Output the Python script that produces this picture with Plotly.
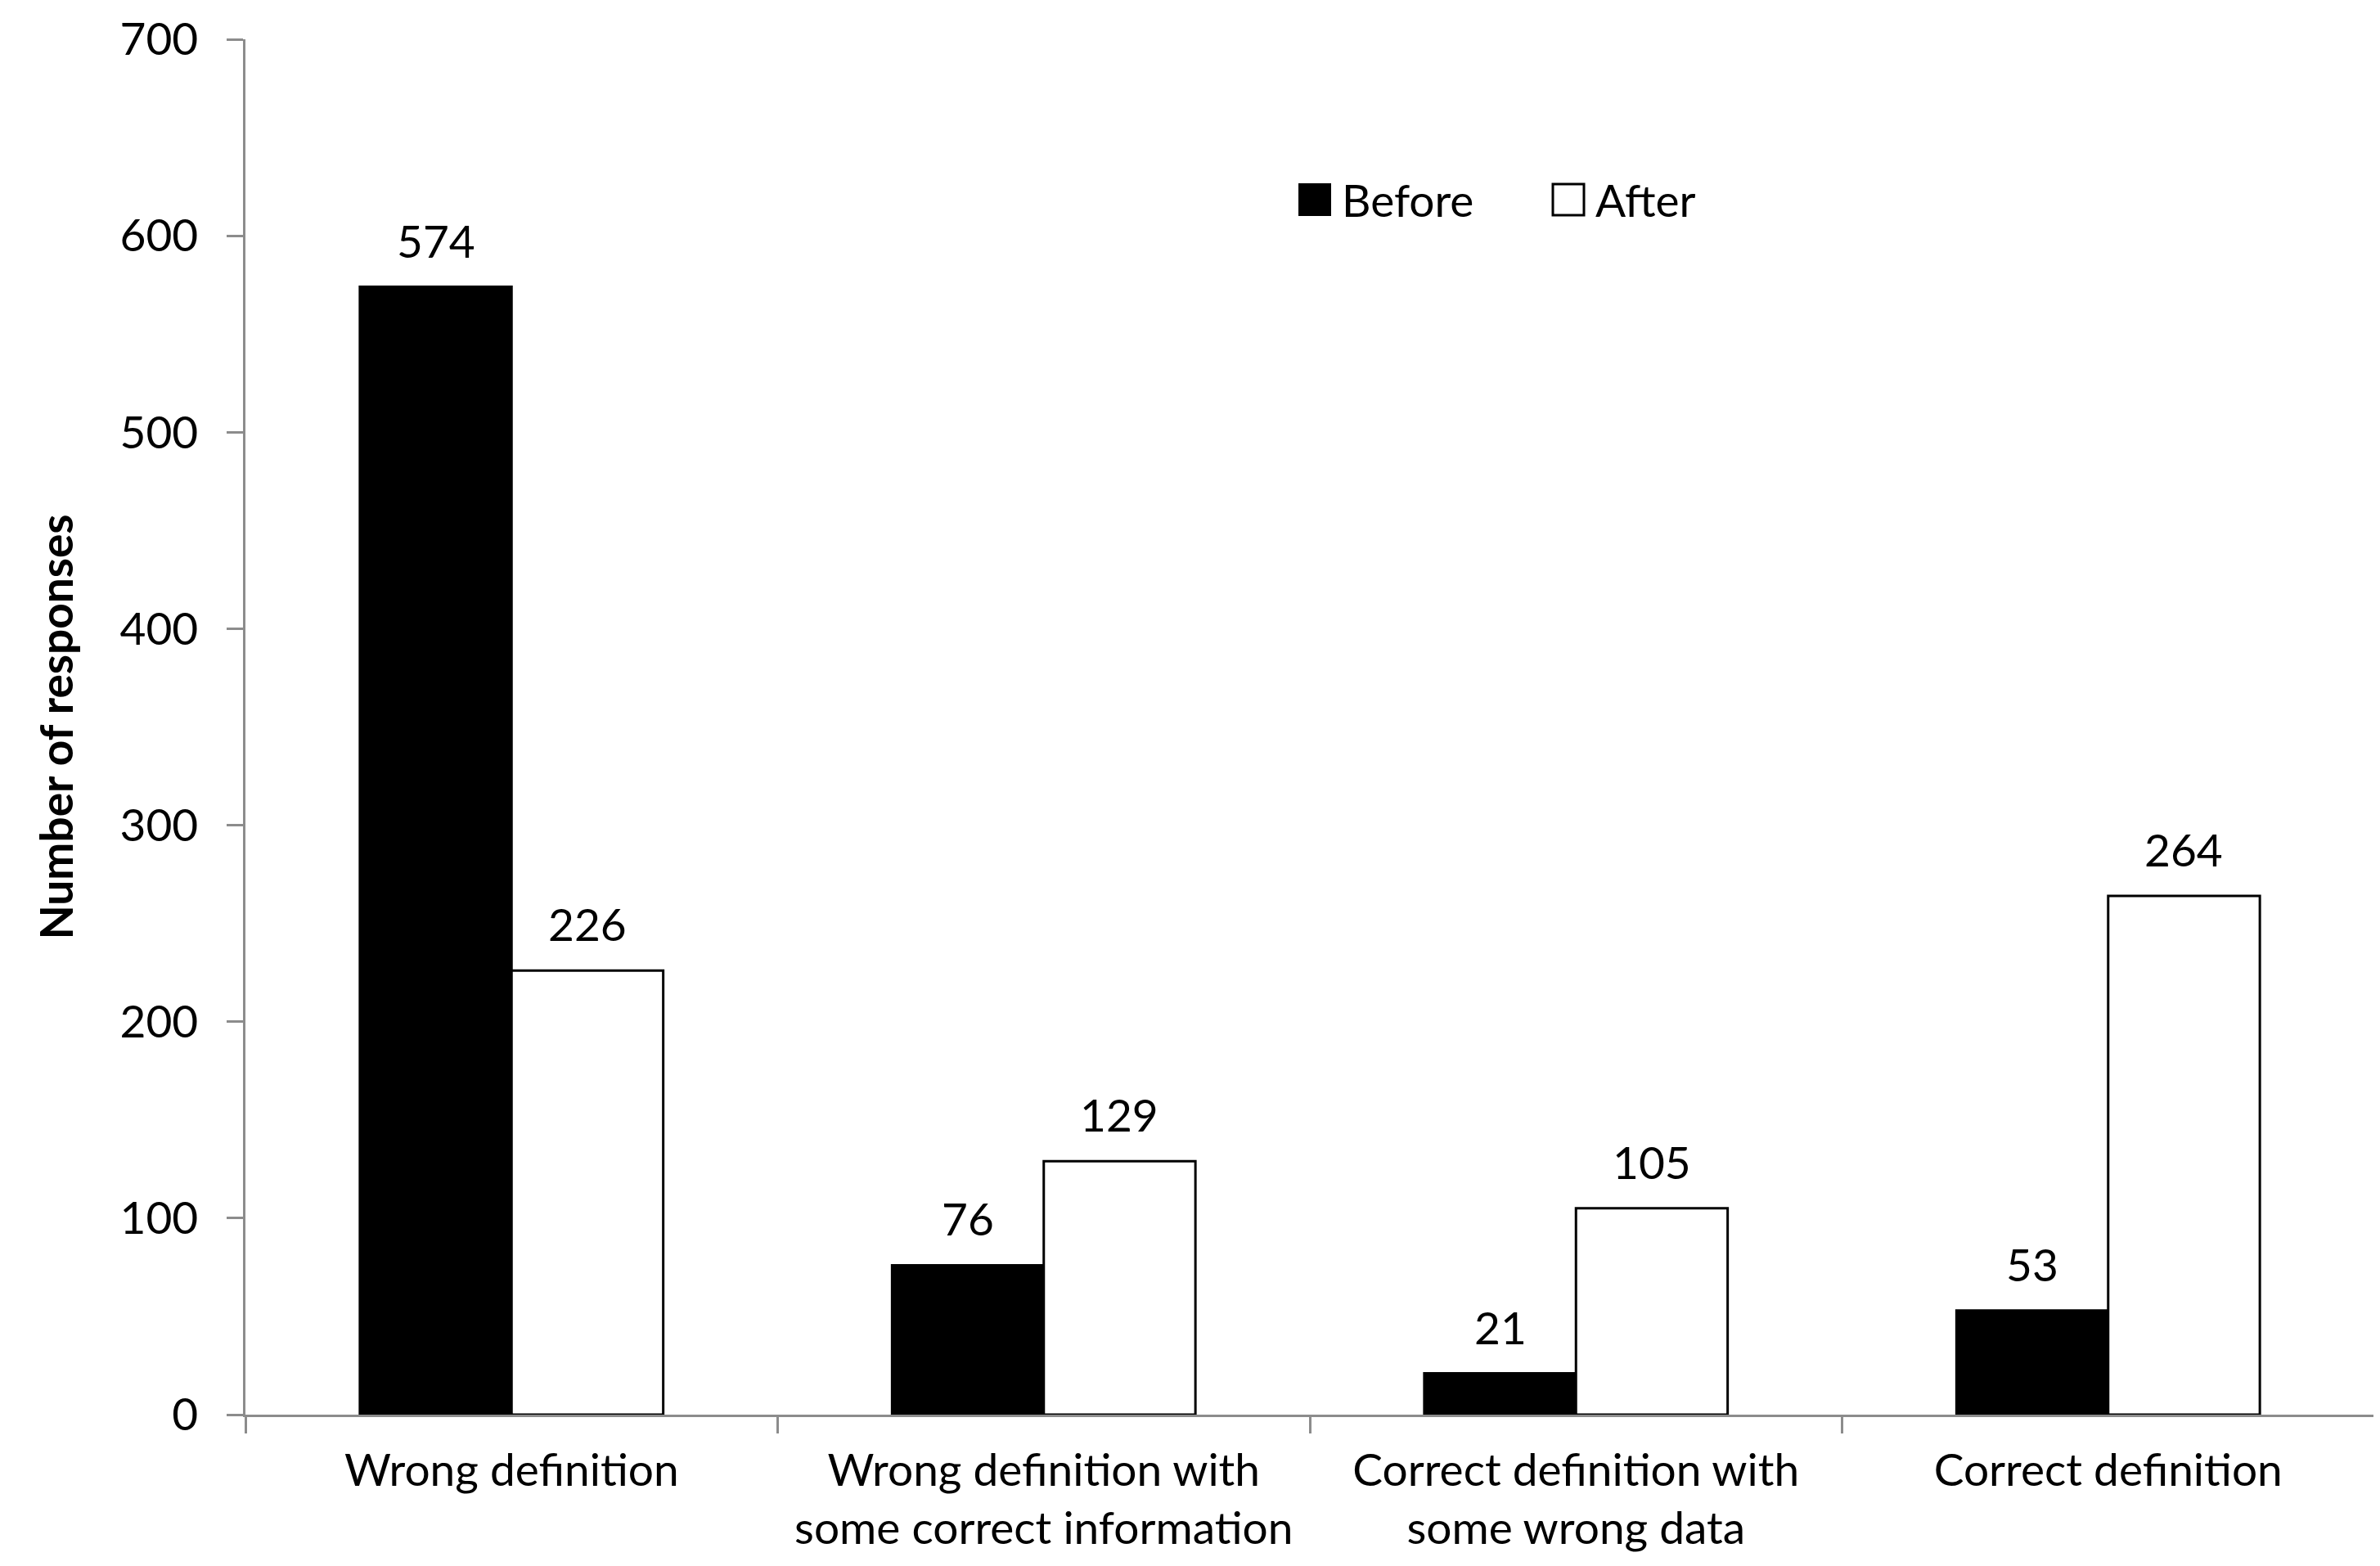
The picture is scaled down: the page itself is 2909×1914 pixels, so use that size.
import plotly.graph_objects as go

categories = ["Wrong definition",
              "Wrong definition with<br>some correct information",
              "Correct definition with<br>some wrong data",
              "Correct definition"]
before = [574, 76, 21, 53]
after = [226, 129, 105, 264]
series_names = ["Before", "After"]
y_ticks = [0, 100, 200, 300, 400, 500, 600, 700]

FONT = "Lato"
FS = 55
W, H = 2909, 1914
L, R, T, B = 292, 15, 40, 193
BARGAP = 0.43

fig = go.Figure()
fig.add_trace(go.Bar(
    name=series_names[0], x=categories, y=before,
    marker=dict(color="black", line=dict(color="black", width=3)),
    showlegend=False))
fig.add_trace(go.Bar(
    name=series_names[1], x=categories, y=after,
    marker=dict(color="white", line=dict(color="black", width=3)),
    showlegend=False))

pw = W - L - R
ph = H - T - B
bar_w = pw / len(categories) * (1 - BARGAP) / 2

# value labels above each bar, placed through the data axes
for vals, sign in ((before, -1), (after, 1)):
    for cat, v in zip(categories, vals):
        fig.add_annotation(x=cat, y=v, xref="x", yref="y", text=str(v),
                           showarrow=False, xanchor="center", yanchor="bottom",
                           xshift=sign * bar_w / 2, yshift=22,
                           font=dict(family=FONT, size=FS, color="black"))

fig.update_layout(
    width=W, height=H,
    margin=dict(l=L, r=R, t=T, b=B, autoexpand=False),
    paper_bgcolor="white", plot_bgcolor="white",
    barmode="group", bargap=BARGAP, bargroupgap=0,
    font=dict(family=FONT, size=FS, color="black"),
    showlegend=False,
)
fig.update_xaxes(
    showline=True, linecolor="#8c8c8c", linewidth=2.5,
    ticks="outside", tickson="boundaries", ticklen=20, tickwidth=2.5, tickcolor="#8c8c8c",
    showgrid=False, zeroline=False, automargin=False,
    tickfont=dict(family=FONT, size=FS, color="black"),
    ticklabelstandoff=18,
)
fig.update_yaxes(
    range=[0, 700], tickvals=y_ticks,
    showline=True, linecolor="#8c8c8c", linewidth=2.5,
    ticks="outside", ticklen=20, tickwidth=2.5, tickcolor="#8c8c8c",
    showgrid=False, zeroline=False, automargin=False,
    tickfont=dict(family=FONT, size=FS, color="black"),
    ticklabelstandoff=24, ticklabeloverflow="allow",
    title=dict(text="<b>Number of responses</b>", font=dict(family=FONT, size=FS, color="black"), standoff=40),
)

# legend keys (paper coordinates)
def px_x(p):
    return (p - L) / pw
def px_y(p):
    return (H - B - p) / ph

ly = 236
half = 19
fig.add_shape(type="rect", xref="paper", yref="paper",
              x0=px_x(1580), x1=px_x(1618), y0=px_y(ly + half), y1=px_y(ly - half),
              fillcolor="black", line=dict(color="black", width=2))
fig.add_shape(type="rect", xref="paper", yref="paper",
              x0=px_x(1890), x1=px_x(1928), y0=px_y(ly + half), y1=px_y(ly - half),
              fillcolor="white", line=dict(color="black", width=3))
fig.add_annotation(xref="paper", yref="paper", x=px_x(1630), y=px_y(ly),
                   text=series_names[0], showarrow=False, xanchor="left", yanchor="middle",
                   font=dict(family=FONT, size=FS, color="black"))
fig.add_annotation(xref="paper", yref="paper", x=px_x(1940), y=px_y(ly),
                   text=series_names[1], showarrow=False, xanchor="left", yanchor="middle",
                   font=dict(family=FONT, size=FS, color="black"))

fig.write_html("out.html")
